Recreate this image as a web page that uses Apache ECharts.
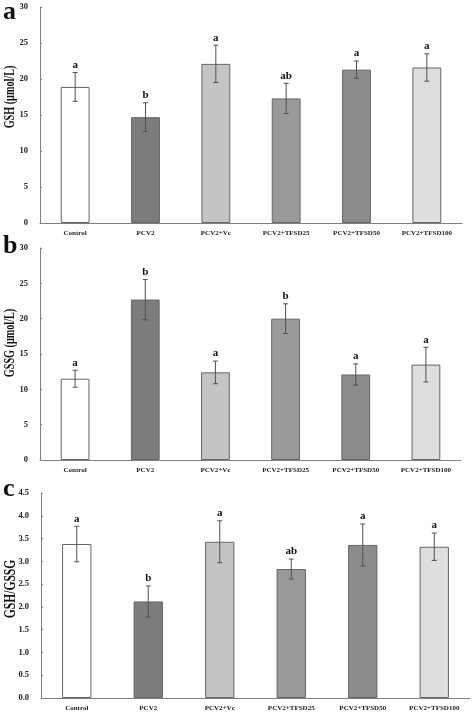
<!DOCTYPE html>
<html><head><meta charset="utf-8">
<script src="https://cdn.jsdelivr.net/npm/echarts@6/dist/echarts.min.js"></script>
<style>html,body{margin:0;padding:0;background:#fff}#c{width:472px;height:712px}</style>
</head><body><div id="c"></div>
<script>
var categories = ['Control','PCV2','PCV2+Vc','PCV2+TFSD25','PCV2+TFSD50','PCV2+TFSD100'];
var barColors = ['#ffffff','#7c7c7c','#c4c4c4','#9a9a9a','#8c8c8c','#dedede'];

var gshMean = [18.9, 14.7, 22.1, 17.3, 21.3, 21.6];
var gshErr = [2.0, 2.0, 2.6, 2.1, 1.2, 1.9];
var gshLetters = ['a','b','a','ab','a','a'];

var gssgMean = [11.5, 22.7, 12.4, 20.0, 12.1, 13.5];
var gssgErr = [1.2, 2.85, 1.6, 2.1, 1.5, 2.45];
var gssgLetters = ['a','b','a','b','a','a'];

var ratioMean = [3.38, 2.12, 3.43, 2.83, 3.36, 3.32];
var ratioErr = [0.39, 0.34, 0.46, 0.22, 0.46, 0.30];
var ratioLetters = ['a','b','a','ab','a','a'];

var panelLetters = ['a','b','c'];
var yNames = ['GSH (\u03bcmol/L)','GSSG (\u03bcmol/L)','GSH/GSSG'];
var yMax = [30, 30, 4.5];
var yInterval = [5, 5, 0.5];

var serif = '"Liberation Serif","DejaVu Serif",serif';
var grids = [
  {left:40, top:7, width:422, height:216},
  {left:40, top:248, width:421, height:212},
  {left:41, top:493, width:429, height:205}
];
var panels = [
  {mean:gshMean, err:gshErr, letters:gshLetters},
  {mean:gssgMean, err:gssgErr, letters:gssgLetters},
  {mean:ratioMean, err:ratioErr, letters:ratioLetters}
];

var xAxes = [], yAxes = [], series = [];
panels.forEach(function(p, i){
  xAxes.push({
    type:'category', gridIndex:i, data:categories,
    axisLine:{lineStyle:{color:'#808080', width:1}},
    axisTick:{alignWithLabel:true, length:2, lineStyle:{color:'#808080'}},
    axisLabel:{fontFamily:serif, fontWeight:'bold', fontSize:7, color:'#222', margin:7, interval:0}
  });
  yAxes.push({
    type:'value', gridIndex:i, min:0, max:yMax[i], interval:yInterval[i],
    axisLine:{show:true, lineStyle:{color:'#808080', width:1}},
    axisTick:{show:true, inside:true, length:2, lineStyle:{color:'#808080'}},
    splitLine:{show:false},
    axisLabel:{fontFamily:serif, fontWeight:'bold', fontSize:8.5, color:'#222', margin:12,
      formatter: i===2 ? function(v){return v.toFixed(1);} : null}
  });
  series.push({
    type:'bar', xAxisIndex:i, yAxisIndex:i, barWidth:'41%',
    data:p.mean.map(function(v, k){
      return {value:v, itemStyle:{color:barColors[k], borderColor:'#666666', borderWidth:1}};
    })
  });
  series.push({
    type:'custom', xAxisIndex:i, yAxisIndex:i, z:5,
    data:p.mean.map(function(v, k){ return [k, v, p.err[k]]; }),
    renderItem:function(params, api){
      var k = api.value(0), m = api.value(1), e = api.value(2);
      var letter = p.letters[k];
      var top = api.coord([k, m + e]);
      var bot = api.coord([k, m - e]);
      var cw = 2.5;
      var st = {stroke:'#505050', lineWidth:1};
      return {type:'group', children:[
        {type:'line', shape:{x1:top[0], y1:top[1], x2:bot[0], y2:bot[1]}, style:st},
        {type:'line', shape:{x1:top[0]-cw, y1:top[1], x2:top[0]+cw, y2:top[1]}, style:st},
        {type:'line', shape:{x1:bot[0]-cw, y1:bot[1], x2:bot[0]+cw, y2:bot[1]}, style:st},
        {type:'text', style:{text:letter, x:top[0], y:top[1]-2, textAlign:'center', textVerticalAlign:'bottom',
          font:'bold 11px ' + serif, fill:'#111'}}
      ]};
    }
  });
});

var nameCenters = [[10, 97], [10, 343], [11, 589]];
var nameSizes = [15, 15, 17];
var letterTops = [-1, 233, 476];
var graphics = [];
for (var i = 0; i < 3; i++) {
  graphics.push({type:'text', left:3, top:letterTops[i], style:{text:panelLetters[i], font:'bold 26px ' + serif, fill:'#111'}});
  graphics.push({type:'text', x:nameCenters[i][0], y:nameCenters[i][1], rotation:Math.PI/2, scaleX:0.68, scaleY:1,
    style:{text:yNames[i], font:'bold ' + nameSizes[i] + 'px ' + serif, fill:'#111', textAlign:'center', textVerticalAlign:'middle'}});
}

var chart = echarts.init(document.getElementById('c'), null, {renderer:'canvas'});
chart.setOption({
  animation:false,
  backgroundColor:'#ffffff',
  grid:grids,
  xAxis:xAxes,
  yAxis:yAxes,
  series:series,
  graphic:graphics
});
</script>
</body></html>
